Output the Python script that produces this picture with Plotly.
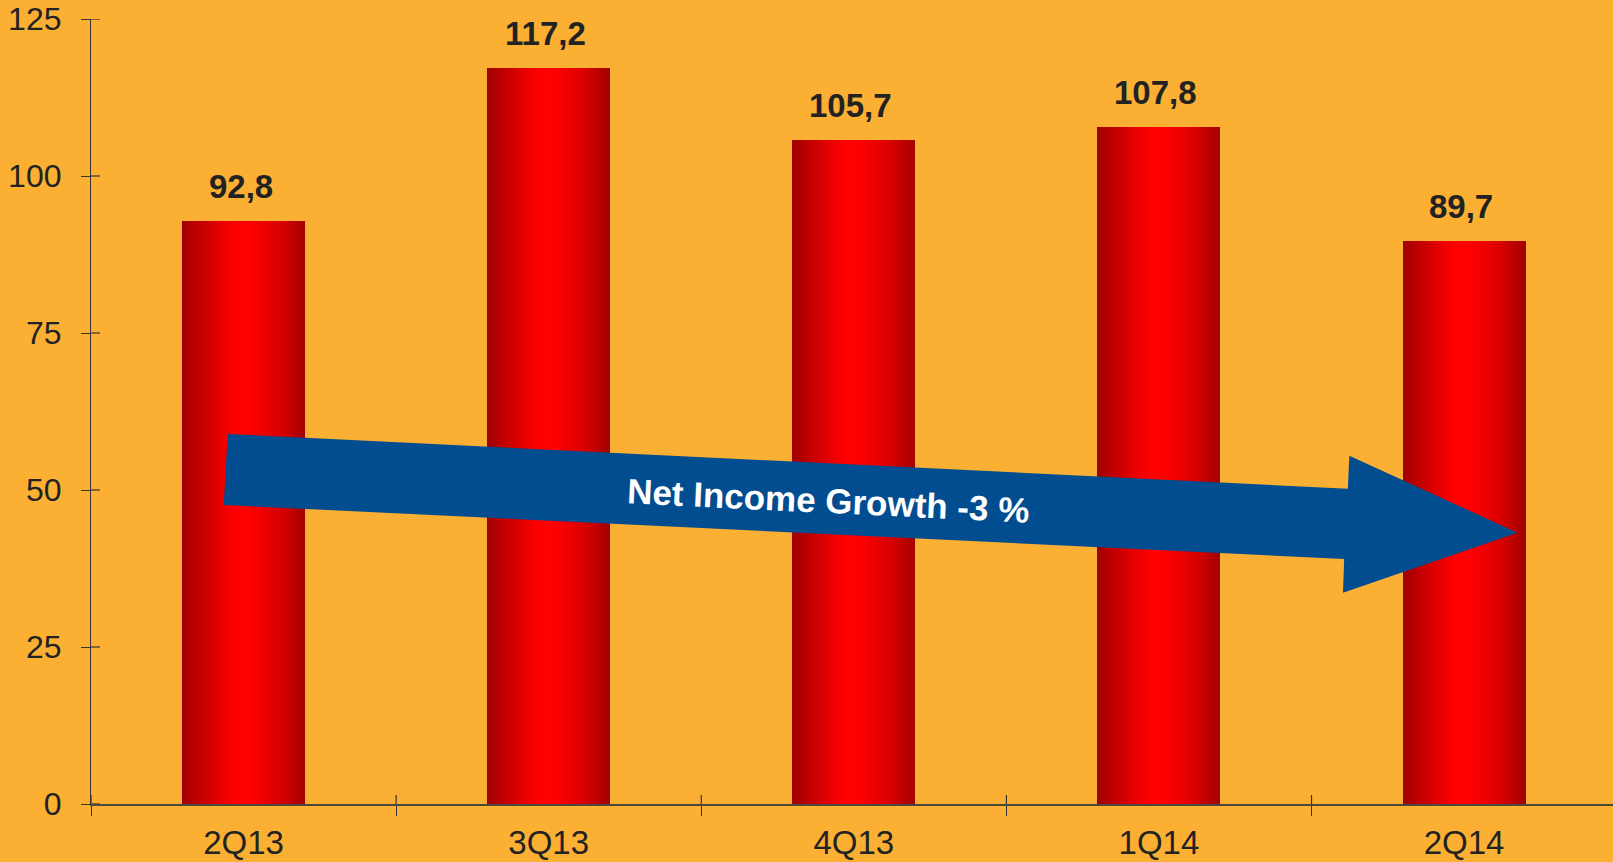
import plotly.graph_objects as go

# Quarterly net income
quarters = ["2Q13", "3Q13", "4Q13", "1Q14", "2Q14"]
net_income = [92.8, 117.2, 105.7, 107.8, 89.7]
y_ticks = [0, 25, 50, 75, 100, 125]
trend_label = "Net Income Growth -3 %"

BG = "#FBB034"
TEXT = "#222222"
ARROW_BLUE = "#024D90"
AXIS_LINE = "#333333"

BAR_W = 0.403
N_SLICES = 60
X_RANGE = [-0.5, 4.488]
Y_RANGE = [0, 125]

# horizontal shading across a bar: (fraction of width, rgb)
SHADE = [
    (0.00, (160, 0, 0)),
    (0.15, (196, 0, 0)),
    (0.42, (255, 0, 0)),
    (0.55, (255, 0, 0)),
    (0.80, (216, 0, 0)),
    (1.00, (162, 0, 0)),
]


def shade_at(t):
    for (t0, c0), (t1, c1) in zip(SHADE[:-1], SHADE[1:]):
        if t0 <= t <= t1:
            f = (t - t0) / (t1 - t0) if t1 > t0 else 0
            r, g, b = (round(a + (bb - a) * f) for a, bb in zip(c0, c1))
            return f"rgb({r},{g},{b})"
    return "rgb(%d,%d,%d)" % SHADE[-1][1]


fig = go.Figure()

# Each bar is built from overlapping vertical strips; every strip runs to
# the right edge of the bar so the next one covers it without seams.
step = BAR_W / N_SLICES
for k in range(N_SLICES):
    fig.add_trace(go.Bar(
        x=quarters,
        y=net_income,
        width=BAR_W - k * step,
        offset=-BAR_W / 2 + k * step,
        marker=dict(color=shade_at((k + 0.5) / N_SLICES), line=dict(width=0)),
        hoverinfo="skip",
        showlegend=False,
    ))

# value labels above the bars
annotations = []
for q, v in zip(quarters, net_income):
    annotations.append(dict(
        x=q, y=v, xref="x", yref="y",
        text="<b>" + f"{v:.1f}".replace(".", ",") + "</b>",
        showarrow=False, yanchor="bottom", yshift=14, xshift=-3,
        font=dict(size=33, color=TEXT, family="Liberation Sans, Arial"),
    ))


def xp(v):
    return (v - X_RANGE[0]) / (X_RANGE[1] - X_RANGE[0])


# trend arrow outline (x as category index, y in chart units)
arrow_pts = [
    (-0.052, 58.92), (3.619, 50.21), (3.624, 55.46), (4.175, 43.20),
    (3.603, 33.65), (3.607, 39.01), (-0.065, 47.61),
]
path = "M " + " L ".join(f"{xp(x):.5f},{y:.3f}" for x, y in arrow_pts) + " Z"
shapes = [dict(
    type="path", path=path, xref="paper", yref="y",
    fillcolor=ARROW_BLUE, line=dict(width=0), layer="above",
)]

annotations.append(dict(
    x=xp(1.916), y=48.3, xref="paper", yref="y",
    text="<b>" + trend_label + "</b>", showarrow=False, textangle=2.75,
    font=dict(size=35, color="white", family="Liberation Sans, Arial"),
))

# inner halves of the crossing tick marks
for t in y_ticks:
    shapes.append(dict(
        type="line", xref="paper", xsizemode="pixel", xanchor=0, x0=0, x1=9,
        yref="y", y0=t, y1=t, line=dict(color=AXIS_LINE, width=1.2),
    ))
for b in range(len(quarters)):
    shapes.append(dict(
        type="line", xref="paper", x0=xp(b - 0.5), x1=xp(b - 0.5),
        yref="paper", ysizemode="pixel", yanchor=0, y0=0, y1=9,
        line=dict(color=AXIS_LINE, width=1.2),
    ))

fig.update_layout(
    width=1613, height=862,
    margin=dict(l=91, r=0, t=19, b=58),
    paper_bgcolor=BG, plot_bgcolor=BG,
    barmode="overlay", bargap=0,
    font=dict(family="Liberation Sans, Arial", color=TEXT),
    shapes=shapes, annotations=annotations,
    xaxis=dict(
        type="category", range=X_RANGE, tickson="boundaries",
        ticks="outside", ticklen=10, tickwidth=1.2, tickcolor=AXIS_LINE,
        showline=True, linecolor="#4A4A3A", linewidth=1.6,
        showgrid=False, zeroline=False,
        tickfont=dict(size=33, color=TEXT), ticklabelstandoff=9,
    ),
    yaxis=dict(
        range=Y_RANGE, tickvals=y_ticks,
        ticks="outside", ticklen=9, tickwidth=1.2, tickcolor=AXIS_LINE,
        showline=True, linecolor=AXIS_LINE, linewidth=1.2,
        showgrid=False, zeroline=False,
        tickfont=dict(size=32, color=TEXT), ticklabelstandoff=13,
    ),
)

fig.write_html("out.html")
